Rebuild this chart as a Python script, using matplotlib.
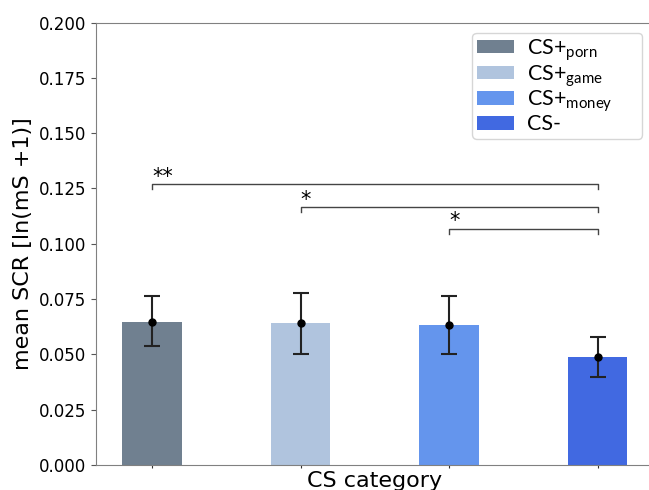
import matplotlib
matplotlib.use("Agg")
import matplotlib.pyplot as plt
import numpy as np

plt.rcParams['mathtext.fontset'] = 'custom'
plt.rcParams['mathtext.rm'] = 'Lato'

# data
categories = ["porn", "game", "money", "minus"]
legend_labels = ["CS+$_{\\mathrm{porn}}$", "CS+$_{\\mathrm{game}}$",
                 "CS+$_{\\mathrm{money}}$", "CS-"]
means = [0.0648, 0.0640, 0.0635, 0.0488]
err_low = [0.0540, 0.0500, 0.0503, 0.0398]
err_high = [0.0762, 0.0777, 0.0765, 0.0578]
colors = ["slategray", "lightsteelblue", "cornflowerblue", "royalblue"]

# significance brackets: (start, end, height, label)
sig_start = [0, 1, 2]
sig_end = [3, 3, 3]
sig_y = [0.1268, 0.1165, 0.1068]
sig_text = ["**", "*", "*"]

x = np.arange(len(categories))
yerr = [np.array(means) - np.array(err_low), np.array(err_high) - np.array(means)]

fig = plt.figure(figsize=(6.49, 4.90), dpi=100)
ax = fig.add_axes([0.148, 0.051, 0.859, 0.903])

for i in range(len(categories)):
    ax.bar(x[i], means[i], width=0.4, color=colors[i], label=legend_labels[i])

ax.errorbar(x, means, yerr=yerr, fmt='o', color='black', ecolor='#222222',
            markersize=5, capsize=5.5, elinewidth=1.5, capthick=1.5)

tick = 0.0022
for s, e, y, t in zip(sig_start, sig_end, sig_y, sig_text):
    ax.plot([s, s, e, e], [y - tick, y, y, y - tick], color='#444444', lw=1)
    ax.text(s, y + 0.0008, t, ha='left', va='baseline', fontsize=15)

ax.set_xlim(-0.376, 3.376)
ax.set_ylim(0, 0.2)
ax.set_yticks(np.arange(0, 0.2001, 0.025))
ax.set_yticklabels(["%.3f" % v for v in np.arange(0, 0.2001, 0.025)], fontsize=12)
ax.set_xticks(x)
ax.set_xticklabels([])
ax.tick_params(axis='x', length=2.5, color='#333333')
ax.tick_params(axis='y', color='#555555')

for side in ['left', 'bottom', 'top', 'right']:
    ax.spines[side].set_color('#808080')

ax.set_ylabel("mean SCR [ln(mS +1)]", fontsize=16)
ax.set_xlabel("CS category", fontsize=16, labelpad=-2)

leg = ax.legend(loc='upper left', bbox_to_anchor=(0.675, 0.0, 0.305, 0.977),
                mode='expand', prop={'family': 'Lato', 'size': 15.5},
                borderaxespad=0.0, borderpad=0.2, handlelength=1.75,
                handleheight=0.6, labelspacing=0.0, handletextpad=0.6)
leg.get_frame().set_edgecolor('#cccccc')

fig.savefig("out.png", dpi=100)
